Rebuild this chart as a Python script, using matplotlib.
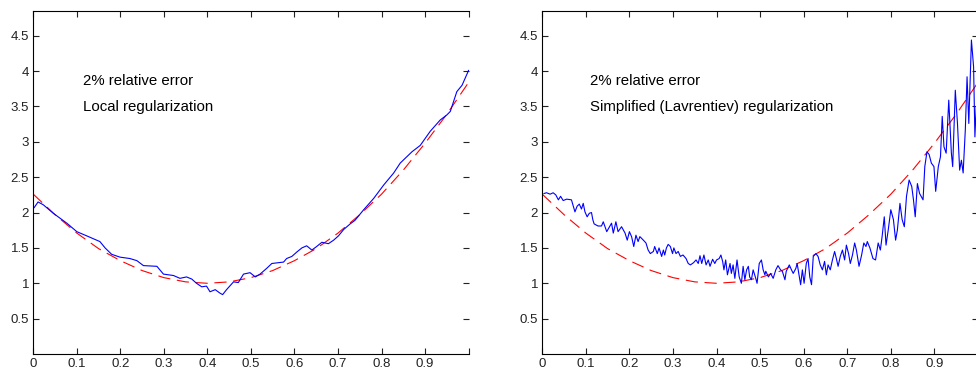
import matplotlib
matplotlib.use("Agg")
import matplotlib.pyplot as plt

plt.rcParams['font.family'] = ['Liberation Sans', 'DejaVu Sans']

# exact solution (red dashed)
true_x = [0.0, 0.05, 0.1, 0.15, 0.2, 0.25, 0.3, 0.35, 0.4, 0.45, 0.5,
          0.55, 0.6, 0.65, 0.7, 0.75, 0.8, 0.85, 0.9, 0.95, 1.0]
true_y = [2.26, 1.97, 1.71, 1.49, 1.32, 1.18, 1.08, 1.02, 1.00, 1.02, 1.08,
          1.18, 1.32, 1.49, 1.71, 1.97, 2.26, 2.60, 2.98, 3.39, 3.84]

# local regularization (left, blue)
local_x = [0.002, 0.011, 0.023, 0.046, 0.077, 0.100, 0.123, 0.153, 0.165, 0.180,
           0.199, 0.222, 0.238, 0.253, 0.284, 0.299, 0.322, 0.337, 0.352, 0.364,
           0.375, 0.387, 0.398, 0.406, 0.418, 0.429, 0.435, 0.444, 0.460, 0.471,
           0.483, 0.498, 0.510, 0.521, 0.536, 0.548, 0.575, 0.582, 0.594, 0.605,
           0.617, 0.628, 0.640, 0.651, 0.663, 0.678, 0.690, 0.701, 0.713, 0.728,
           0.739, 0.759, 0.782, 0.805, 0.828, 0.843, 0.870, 0.889, 0.912, 0.935,
           0.950, 0.958, 0.973, 0.985, 1.000]
local_y = [2.07, 2.15, 2.11, 1.99, 1.85, 1.73, 1.67, 1.59, 1.50, 1.41,
           1.37, 1.35, 1.32, 1.25, 1.24, 1.13, 1.11, 1.07, 1.09, 1.06,
           1.00, 0.95, 0.96, 0.88, 0.91, 0.86, 0.84, 0.91, 1.02, 1.01,
           1.13, 1.15, 1.09, 1.13, 1.21, 1.28, 1.30, 1.35, 1.38, 1.44,
           1.50, 1.53, 1.47, 1.52, 1.58, 1.56, 1.61, 1.67, 1.76, 1.84,
           1.89, 2.04, 2.20, 2.39, 2.56, 2.70, 2.86, 2.95, 3.15, 3.31,
           3.38, 3.43, 3.71, 3.80, 4.01]

# simplified (Lavrentiev) regularization (right, blue)
lav_x = [0.004, 0.010, 0.018, 0.025, 0.031, 0.037, 0.042, 0.048, 0.056, 0.067,
         0.075, 0.080, 0.085, 0.090, 0.094, 0.098, 0.103, 0.108, 0.113, 0.116,
         0.119, 0.128, 0.136, 0.140, 0.148, 0.159, 0.163, 0.169, 0.174, 0.182,
         0.190, 0.195, 0.200, 0.205, 0.210, 0.215, 0.220, 0.224, 0.232, 0.238,
         0.243, 0.248, 0.255, 0.258, 0.264, 0.268, 0.274, 0.278, 0.281, 0.285,
         0.289, 0.294, 0.299, 0.302, 0.307, 0.312, 0.317, 0.323, 0.330, 0.335,
         0.340, 0.347, 0.353, 0.358, 0.362, 0.366, 0.371, 0.376, 0.381, 0.385,
         0.391, 0.396, 0.400, 0.406, 0.410, 0.414, 0.417, 0.421, 0.425, 0.431,
         0.434, 0.438, 0.442, 0.447, 0.452, 0.457, 0.461, 0.465, 0.469, 0.473,
         0.476, 0.480, 0.484, 0.490, 0.493, 0.498, 0.503, 0.507, 0.511, 0.513,
         0.519, 0.524, 0.530, 0.536, 0.541, 0.547, 0.551, 0.557, 0.560, 0.567,
         0.572, 0.576, 0.582, 0.585, 0.590, 0.593, 0.597, 0.601, 0.606, 0.610,
         0.614, 0.618, 0.622, 0.628, 0.633, 0.638, 0.643, 0.648, 0.652, 0.656,
         0.661, 0.666, 0.671, 0.675, 0.679, 0.684, 0.689, 0.694, 0.698, 0.703,
         0.707, 0.712, 0.717, 0.721, 0.727, 0.733, 0.738, 0.743, 0.746, 0.752,
         0.759, 0.765, 0.771, 0.776, 0.780, 0.785, 0.789, 0.794, 0.800, 0.806,
         0.811, 0.815, 0.821, 0.826, 0.831, 0.836, 0.842, 0.848, 0.852, 0.856,
         0.861, 0.866, 0.874, 0.878, 0.883, 0.888, 0.893, 0.899, 0.903, 0.909,
         0.914, 0.918, 0.922, 0.927, 0.933, 0.939, 0.942, 0.948, 0.953, 0.958,
         0.962, 0.966, 0.971, 0.975, 0.979, 0.985, 0.990, 0.993, 0.996, 1.000]
lav_y = [2.27, 2.28, 2.26, 2.28, 2.25, 2.18, 2.23, 2.17, 2.19, 2.18,
         2.01, 2.09, 2.12, 2.05, 2.13, 2.01, 1.94, 1.99, 2.00, 1.90,
         1.84, 1.81, 1.81, 1.87, 1.73, 1.85, 1.71, 1.87, 1.73, 1.80,
         1.71, 1.61, 1.73, 1.66, 1.52, 1.68, 1.59, 1.66, 1.61, 1.57,
         1.47, 1.42, 1.45, 1.52, 1.42, 1.50, 1.38, 1.47, 1.40, 1.50,
         1.55, 1.52, 1.42, 1.50, 1.42, 1.45, 1.38, 1.40, 1.35, 1.28,
         1.26, 1.29, 1.33, 1.28, 1.39, 1.28, 1.40, 1.26, 1.33, 1.24,
         1.34, 1.28, 1.33, 1.35, 1.40, 1.31, 1.19, 1.33, 1.12, 1.28,
         1.14, 1.26, 1.07, 1.33, 1.09, 1.00, 1.24, 1.05, 1.19, 1.24,
         1.09, 1.05, 1.19, 1.07, 1.00, 1.28, 1.33, 1.19, 1.12, 1.17,
         1.09, 1.14, 1.07, 1.19, 1.25, 1.19, 1.17, 1.05, 1.17, 1.26,
         1.19, 1.14, 1.21, 1.28, 1.09, 0.98, 1.19, 1.00, 1.28, 1.35,
         1.09, 0.98, 1.38, 1.42, 1.38, 1.26, 1.19, 1.31, 1.12, 1.26,
         1.19, 1.33, 1.45, 1.35, 1.24, 1.38, 1.47, 1.33, 1.54, 1.42,
         1.28, 1.40, 1.57, 1.47, 1.24, 1.40, 1.57, 1.52, 1.59, 1.50,
         1.35, 1.33, 1.57, 1.47, 1.66, 1.94, 1.54, 1.75, 2.04, 1.90,
         1.61, 1.75, 2.13, 1.90, 1.80, 2.23, 2.46, 2.37, 2.18, 1.94,
         2.41, 2.27, 2.18, 2.65, 2.86, 2.82, 2.70, 2.65, 2.30, 2.65,
         2.79, 3.36, 2.93, 2.84, 3.59, 2.84, 2.65, 3.73, 3.26, 2.60,
         2.74, 2.56, 3.17, 3.92, 3.26, 4.44, 4.06, 3.07, 3.50, 2.89]

y_ticks = [0.5, 1, 1.5, 2, 2.5, 3, 3.5, 4, 4.5]
x_ticks = [0, 0.1, 0.2, 0.3, 0.4, 0.5, 0.6, 0.7, 0.8, 0.9, 1.0]
x_labels = ['0', '0.1', '0.2', '0.3', '0.4', '0.5', '0.6', '0.7', '0.8', '0.9', '']

fig = plt.figure(figsize=(9.76, 3.71), dpi=100)
ax1 = fig.add_axes([0.0341, 0.0458, 0.446, 0.9245])
ax2 = fig.add_axes([0.5556, 0.0458, 0.4464, 0.9245])

panels = [
    (ax1, local_x, local_y, 'Local regularization', 0.114),
    (ax2, lav_x, lav_y, 'Simplified (Lavrentiev) regularization', 0.109),
]

for ax, bx, by, label, tx in panels:
    ax.plot(true_x, true_y, color='#ff0000', lw=0.8, dashes=(11, 6))
    ax.plot(bx, by, color='#0000ff', lw=0.8)
    ax.set_xlim(0, 1)
    ax.set_ylim(0, 4.85)
    ax.set_yticks(y_ticks)
    ax.set_yticklabels([f'{v:g}' for v in y_ticks])
    ax.set_xticks(x_ticks)
    ax.set_xticklabels(x_labels)
    ax.tick_params(direction='in', length=4, width=0.8, top=True, right=True,
                   labelsize=9.5, colors='#222222')
    ax.tick_params(axis='x', pad=3)
    ax.tick_params(axis='y', pad=3)
    for s in ax.spines.values():
        s.set_linewidth(0.8)
    ax.spines['right'].set_visible(False)
    ax.text(tx, 3.86, '2% relative error', fontsize=10.8, va='center')
    ax.text(tx, 3.49, label, fontsize=10.8, va='center')

fig.savefig('out.png', dpi=100)
